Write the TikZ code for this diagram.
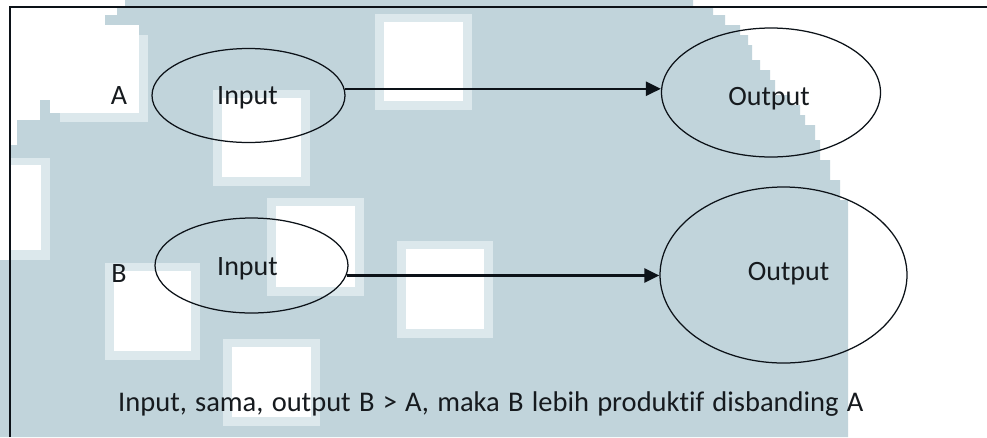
\documentclass[tikz,border=0pt]{standalone}
\usepackage{fontspec}
\setmainfont[Ligatures=NoCommon]{Carlito}
\newfontfamily\notefont[Ligatures=NoCommon,WordSpace=1.28]{Carlito}
\usetikzlibrary{shapes.geometric,arrows.meta}
\definecolor{wm}{RGB}{193,212,219}
\definecolor{wmpale}{RGB}{220,232,236}
\definecolor{ink}{RGB}{12,18,24}
\definecolor{txt}{RGB}{22,26,30}
\newcommand\wmsq[4]{\fill[wmpale] (#1,#2) rectangle (#3,#4); \fill[white] (#1+9,#2+8) rectangle (#3-9,#4-9);}
\begin{document}
\begin{tikzpicture}[x=1pt,y=-1pt,
  ell/.style={draw=ink,line width=1.25pt,ellipse,inner sep=0pt},
  lbl/.style={font=\fontsize{28}{34}\selectfont,text=txt,anchor=base,inner sep=0pt},
  arr/.style={draw=ink,line width=2.4pt,-{Triangle[length=15pt,width=14pt]}},
  frameline/.style={draw=ink,line width=1.6pt}]
\useasboundingbox (0,0) rectangle (987,437);
\fill[white] (0,0) rectangle (987,437);
% watermark
\fill[wm] (125,0) -- (693,0) -- (693,7) -- (713,7) -- (713,15) -- (725,15) -- (725,25) -- (740,25) -- (740,35) -- (748,35) -- (748,45) -- (752,45) -- (752,60) -- (760,60) -- (760,70) -- (770,70) -- (770,80) -- (775,80) -- (775,95) -- (790,95) -- (790,105) -- (800,105) -- (800,115) -- (805,115) -- (805,125) -- (815,125) -- (815,140) -- (820,140) -- (820,160) -- (830,160) -- (830,180) -- (840,180) -- (840,200) -- (848,200) -- (848,437) -- (0,437) -- (0,260) -- (10,260) -- (10,145) -- (17,145) -- (17,120) -- (40,120) -- (40,100) -- (50,100) -- (50,80) -- (60,80) -- (60,35) -- (100,35) -- (100,25) -- (105,25) -- (105,15) -- (117,15) -- (117,7) -- (125,7) -- cycle;
\fill[wmpale] (60,35) rectangle (148,122);
\fill[white] (50,25) rectangle (139,113);
\fill[wmpale] (10,158) rectangle (50,260);
\fill[white] (10,165) rectangle (41,250);
\wmsq{213}{90}{310}{186}
\wmsq{267}{198}{364}{296}
\wmsq{397}{241}{493}{338}
\wmsq{105}{263}{200}{360}
\wmsq{223}{339}{320}{426}
\wmsq{375}{14}{472}{110}
% frame
\draw[frameline] (10,437) -- (10,7) -- (987,7);
% ellipses
\node[ell,minimum width=193pt,minimum height=94pt] (inA) at (248.5,95.5) {};
\node[ell,minimum width=219pt,minimum height=129pt] (outA) at (771,92.5) {};
\node[ell,minimum width=193pt,minimum height=95pt] (inB) at (251.5,265.5) {};
\node[ell,minimum width=247pt,minimum height=176pt] (outB) at (783.5,275) {};
% labels
\node[lbl] (la) at (119,104) {A};
\node[lbl] (ta) at (247.5,104) {Input};
\node[lbl] (toa) at (769,105) {Output};
\node[lbl] (lb) at (119,282) {B};
\node[lbl] (tb) at (247.5,275) {Input};
\node[lbl] (tob) at (788.5,280) {Output};
\node[lbl,anchor=base west,font=\notefont\fontsize{28.5}{34}\selectfont] (note) at (118,411) {Input, sama, output B > A, maka B lebih produktif disbanding A};
% arrows
\draw[arr] (inA.4) -- (inA.4 -| outA.west);
\draw[arr] (inB.-6) -- (inB.-6 -| outB.west);
\end{tikzpicture}
\end{document}
